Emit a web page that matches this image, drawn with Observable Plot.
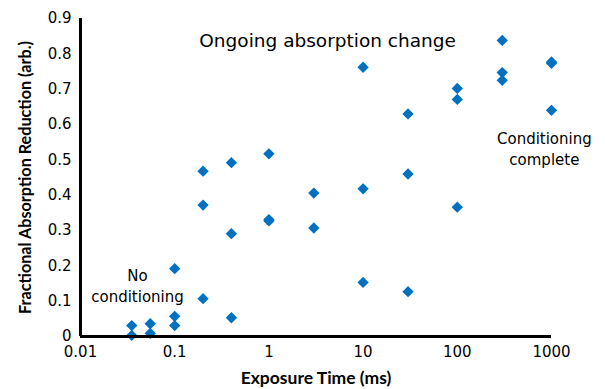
<!DOCTYPE html>
<html>
<head>
<meta charset="utf-8">
<script src="https://cdn.jsdelivr.net/npm/d3@7"></script>
<script src="https://cdn.jsdelivr.net/npm/@observablehq/plot@0.6"></script>
<style>
  html, body { margin: 0; padding: 0; background: #fff; }
  #chart svg { display: block; }
  g[aria-label="x-axis label"] text {
    font-family: Lato, "Open Sans", sans-serif; font-weight: bold; font-size: 17.5px; fill: #000;
  }
</style>
</head>
<body>
<div id="chart"></div>
<script>
// Exposure time (ms) and fractional absorption reduction
const exposureTimes = [0.035, 0.035, 0.055, 0.055, 0.1, 0.1, 0.1, 0.2, 0.2, 0.2, 0.4, 0.4, 0.4, 1, 1, 1, 3, 3, 10, 10, 10, 30, 30, 30, 100, 100, 100, 300, 300, 300, 1000, 1000, 1000];
const reductions    = [0.031, 0.003, 0.036, 0.009, 0.192, 0.057, 0.031, 0.468, 0.372, 0.107, 0.492, 0.291, 0.053, 0.517, 0.331, 0.327, 0.406, 0.307, 0.762, 0.418, 0.153, 0.630, 0.460, 0.127, 0.702, 0.671, 0.366, 0.838, 0.747, 0.725, 0.777, 0.773, 0.640];

const xTicks = [0.01, 0.1, 1, 10, 100, 1000];
const xTickLabels = ["0.01", "0.1", "1", "10", "100", "1000"];
const yTicks = [0, 0.1, 0.2, 0.3, 0.4, 0.5, 0.6, 0.7, 0.8, 0.9];
const yTickLabels = ["0", "0.1", "0.2", "0.3", "0.4", "0.5", "0.6", "0.7", "0.8", "0.9"];

const xTitle = "Exposure Time (ms)";
const yTitle = "Fractional Absorption Reduction (arb.)";

const annotationTexts = ["Ongoing absorption change", "Conditioning\ncomplete", "No\nconditioning"];
const annotationX = [4.2, 840, 0.0403];
const annotationY = [0.836, 0.535, 0.147];

const points = exposureTimes.map((t, i) => ({t, r: reductions[i]}));
const notes = annotationTexts.map((text, i) => ({text, x: annotationX[i], y: annotationY[i]}));

const chart = Plot.plot({
  width: 605,
  height: 389,
  marginLeft: 80,
  marginRight: 54,
  marginTop: 18,
  marginBottom: 53,
  style: {fontFamily: "'DejaVu Sans', Verdana, sans-serif", fontSize: "15px", color: "#000", background: "#fff"},
  x: {type: "log", domain: [0.01, 1000], ticks: xTicks, tickFormat: d => xTickLabels[xTicks.indexOf(d)], tickSize: 0, tickPadding: 10, label: xTitle, labelAnchor: "center", labelArrow: "none", labelOffset: 47},
  y: {domain: [0, 0.9], ticks: yTicks, tickFormat: d => yTickLabels[yTicks.indexOf(d)], tickSize: 0, tickPadding: 9, label: null},
  marks: [
    Plot.dot(points, {x: "t", y: "r", symbol: "diamond2", r: 5.1, fill: "#0070C0", stroke: "none"}),
    Plot.ruleX([0.01], {stroke: "#000", strokeWidth: 3}),
    Plot.ruleY([0], {stroke: "#000", strokeWidth: 3}),
    Plot.text([yTitle], {frameAnchor: "left", dx: -55, rotate: -90, textAnchor: "middle", lineAnchor: "middle", fontFamily: "Lato, 'Open Sans', sans-serif", fontWeight: "bold", fontSize: 16.2, fill: "#000"}),
    Plot.text(notes.slice(0, 1), {x: "x", y: "y", text: "text", fontSize: 18.5, fill: "#000"}),
    Plot.text(notes.slice(1), {x: "x", y: "y", text: "text", fontSize: 15, lineHeight: 1.45, fill: "#000"})
  ]
});
document.getElementById("chart").appendChild(chart);
</script>
</body>
</html>
